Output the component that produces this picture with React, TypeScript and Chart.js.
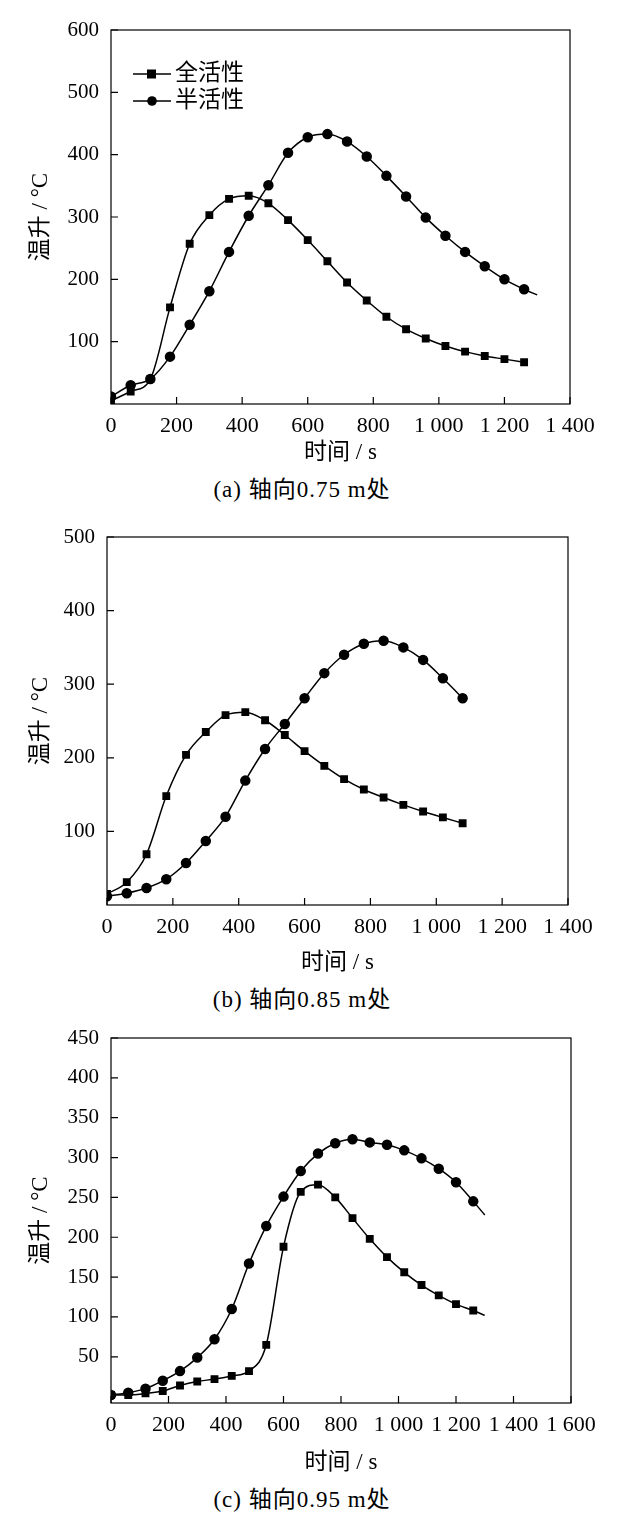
import React, { useEffect, useRef } from "react";
import { Chart, registerables } from "chart.js";
Chart.register(...registerables);

const timeA = [0, 60, 120, 180, 240, 300, 360, 420, 480, 540, 600, 660, 720, 780, 840, 900, 960, 1020, 1080, 1140, 1200, 1260];
const fullA = [5, 20, 40, 155, 257, 303, 329, 334, 322, 295, 263, 229, 195, 166, 140, 120, 105, 93, 84, 77, 72, 67];
const halfA = [12, 30, 40, 76, 127, 181, 244, 302, 351, 403, 428, 433, 421, 397, 366, 333, 299, 270, 244, 221, 200, 184];
const halfATailTime = 1300;
const halfATail = 175;

const timeB = [0, 60, 120, 180, 240, 300, 360, 420, 480, 540, 600, 660, 720, 780, 840, 900, 960, 1020, 1080];
const fullB = [15, 31, 69, 148, 204, 235, 258, 262, 251, 231, 209, 189, 171, 157, 146, 136, 127, 119, 111];
const halfB = [12, 16, 23, 35, 57, 87, 120, 169, 212, 246, 281, 315, 340, 355, 359, 350, 333, 308, 281];

const timeC = [0, 60, 120, 180, 240, 300, 360, 420, 480, 540, 600, 660, 720, 780, 840, 900, 960, 1020, 1080, 1140, 1200, 1260];
const fullC = [2, 2, 4, 7, 14, 19, 22, 26, 32, 65, 188, 257, 266, 250, 224, 198, 175, 156, 140, 127, 116, 108];
const halfC = [2, 5, 10, 20, 32, 49, 72, 110, 167, 214, 251, 283, 305, 318, 323, 319, 316, 309, 299, 286, 269, 245];
const cTailTime = 1300;
const fullCTail = 102;
const halfCTail = 228;

const xTicksA = [0, 200, 400, 600, 800, 1000, 1200, 1400];
const xTicksC = [0, 200, 400, 600, 800, 1000, 1200, 1400, 1600];
const yTicksA = [100, 200, 300, 400, 500, 600];
const yTicksB = [100, 200, 300, 400, 500];
const yTicksC = [50, 100, 150, 200, 250, 300, 350, 400, 450];

const seriesNames = ["全活性", "半活性"];
const xTitle = "时间 / s";
const yTitle = "温升 / °C";
const captions = ["(a) 轴向0.75 m处", "(b) 轴向0.85 m处", "(c) 轴向0.95 m处"];

const FONT = "'Liberation Serif', 'Noto Sans CJK SC', serif";

function fmt(v: number) {
  return v >= 1000 ? `${Math.floor(v / 1000)} ${String(v % 1000).padStart(3, "0")}` : String(v);
}

function pts(t: number[], v: number[], tailT?: number, tailV?: number) {
  const a = t.map((x, i) => ({ x, y: v[i] }));
  if (tailT !== undefined && tailV !== undefined) a.push({ x: tailT, y: tailV, tail: true } as any);
  return a;
}

type PanelProps = {
  top: number; height: number; padTop: number; yWidth: number; right: number; xH: number;
  xMax: number; yMin: number; yMax: number; xTicks: number[]; yTicks: number[];
  full: any[]; half: any[]; legendX: number; legendY: number;
};

function Panel(p: PanelProps) {
  const ref = useRef<HTMLCanvasElement>(null);
  useEffect(() => {
    const radius = (ctx: any) => (ctx.raw && ctx.raw.tail ? 0 : 4.5);
    const boxPlugin = {
      id: "box",
      afterDraw(chart: any) {
        const { ctx, chartArea: a, scales } = chart;
        ctx.save();
        ctx.strokeStyle = "#000";
        ctx.lineWidth = 1.2;
        ctx.strokeRect(a.left, a.top, a.right - a.left, a.bottom - a.top);
        ctx.beginPath();
        p.xTicks.forEach((v) => {
          const x = scales.x.getPixelForValue(v);
          ctx.moveTo(x, a.bottom); ctx.lineTo(x, a.bottom - 7);
        });
        p.yTicks.forEach((v) => {
          const y = scales.y.getPixelForValue(v);
          ctx.moveTo(a.left, y); ctx.lineTo(a.left + 7, y);
        });
        ctx.stroke();
        ctx.font = `23px ${FONT}`;
        ctx.fillStyle = "#000";
        ctx.textBaseline = "middle";
        seriesNames.forEach((n, i) => {
          const y = p.legendY + i * 27;
          ctx.beginPath();
          ctx.lineWidth = 1.5;
          ctx.moveTo(p.legendX, y); ctx.lineTo(p.legendX + 38, y);
          ctx.stroke();
          if (i === 0) ctx.fillRect(p.legendX + 14, y - 4.5, 9, 9);
          else { ctx.beginPath(); ctx.arc(p.legendX + 19, y, 4.8, 0, Math.PI * 2); ctx.fill(); }
          ctx.fillText(n, p.legendX + 42, y);
        });
        ctx.restore();
      },
    };
    const ds = (label: string, data: any[], style: string) => ({
      label, data, borderColor: "#000", backgroundColor: "#000", borderWidth: 1.5,
      pointStyle: style, pointRadius: radius, pointHoverRadius: radius,
      cubicInterpolationMode: "monotone" as const, tension: 0.4,
    });
    const chart = new Chart(ref.current!, {
      type: "line",
      data: { datasets: [ds(seriesNames[0], p.full, "rect"), ds(seriesNames[1], p.half, "circle")] },
      options: {
        animation: false, responsive: false, events: [],
        layout: { padding: { top: p.padTop, right: p.right, left: 0, bottom: 0 } },
        plugins: { legend: { display: false }, tooltip: { enabled: false } },
        scales: {
          x: {
            type: "linear", min: 0, max: p.xMax,
            afterBuildTicks: (s: any) => { s.ticks = p.xTicks.map((v) => ({ value: v })); },
            afterFit: (s: any) => { s.height = p.xH; },
            grid: { display: false, drawTicks: false },
            border: { display: false },
            ticks: { color: "#000", padding: 9, font: { family: FONT, size: 22 }, callback: (v: any) => fmt(Number(v)), maxRotation: 0, autoSkip: false },
            title: { display: true, text: xTitle, color: "#000", font: { family: FONT, size: 23 }, padding: { top: 2, bottom: 3 } },
          },
          y: {
            type: "linear", min: p.yMin, max: p.yMax,
            afterBuildTicks: (s: any) => { s.ticks = p.yTicks.map((v) => ({ value: v })); },
            afterFit: (s: any) => { s.width = p.yWidth; },
            grid: { display: false, drawTicks: false },
            border: { display: false },
            ticks: { color: "#000", padding: 12, font: { family: FONT, size: 21 }, autoSkip: false },
            title: { display: true, text: yTitle, color: "#000", font: { family: FONT, size: 23 }, padding: { top: 27, bottom: 0 } },
          },
        },
      },
      plugins: [boxPlugin],
    } as any);
    return () => chart.destroy();
  }, []);
  return (
    <canvas ref={ref} width={617} height={p.height}
      style={{ position: "absolute", left: 0, top: p.top, width: 617, height: p.height }} />
  );
}

const capStyle = (top: number): React.CSSProperties => ({
  position: "absolute", left: 0, width: 604, top, textAlign: "center",
  fontFamily: FONT, fontSize: 23, color: "#000", lineHeight: "28px", letterSpacing: 1,
});

export default function App() {
  return (
    <div style={{ position: "absolute", left: 0, top: 0, width: 617, height: 1533, background: "#fff" }}>
      <Panel top={0} height={470} padTop={30} yWidth={111} right={47} xH={66} xMax={1400} yMin={0} yMax={600}
        xTicks={xTicksA} yTicks={yTicksA} full={pts(timeA, fullA)} half={pts(timeA, halfA, halfATailTime, halfATail)}
        legendX={133} legendY={74} />
      <div style={capStyle(476)}>{captions[0]}</div>
      <Panel top={510} height={470} padTop={27} yWidth={107} right={49} xH={75} xMax={1400} yMin={0} yMax={500}
        xTicks={xTicksA} yTicks={yTicksB} full={pts(timeB, fullB)} half={pts(timeB, halfB)}
        legendX={135} legendY={577} />
      <div style={capStyle(986)}>{captions[1]}</div>
      <Panel top={1010} height={470} padTop={28} yWidth={111} right={46} xH={77} xMax={1600} yMin={-8} yMax={450}
        xTicks={xTicksC} yTicks={yTicksC} full={pts(timeC, fullC, cTailTime, fullCTail)} half={pts(timeC, halfC, cTailTime, halfCTail)}
        legendX={131} legendY={1077} />
      <div style={capStyle(1486)}>{captions[2]}</div>
    </div>
  );
}
